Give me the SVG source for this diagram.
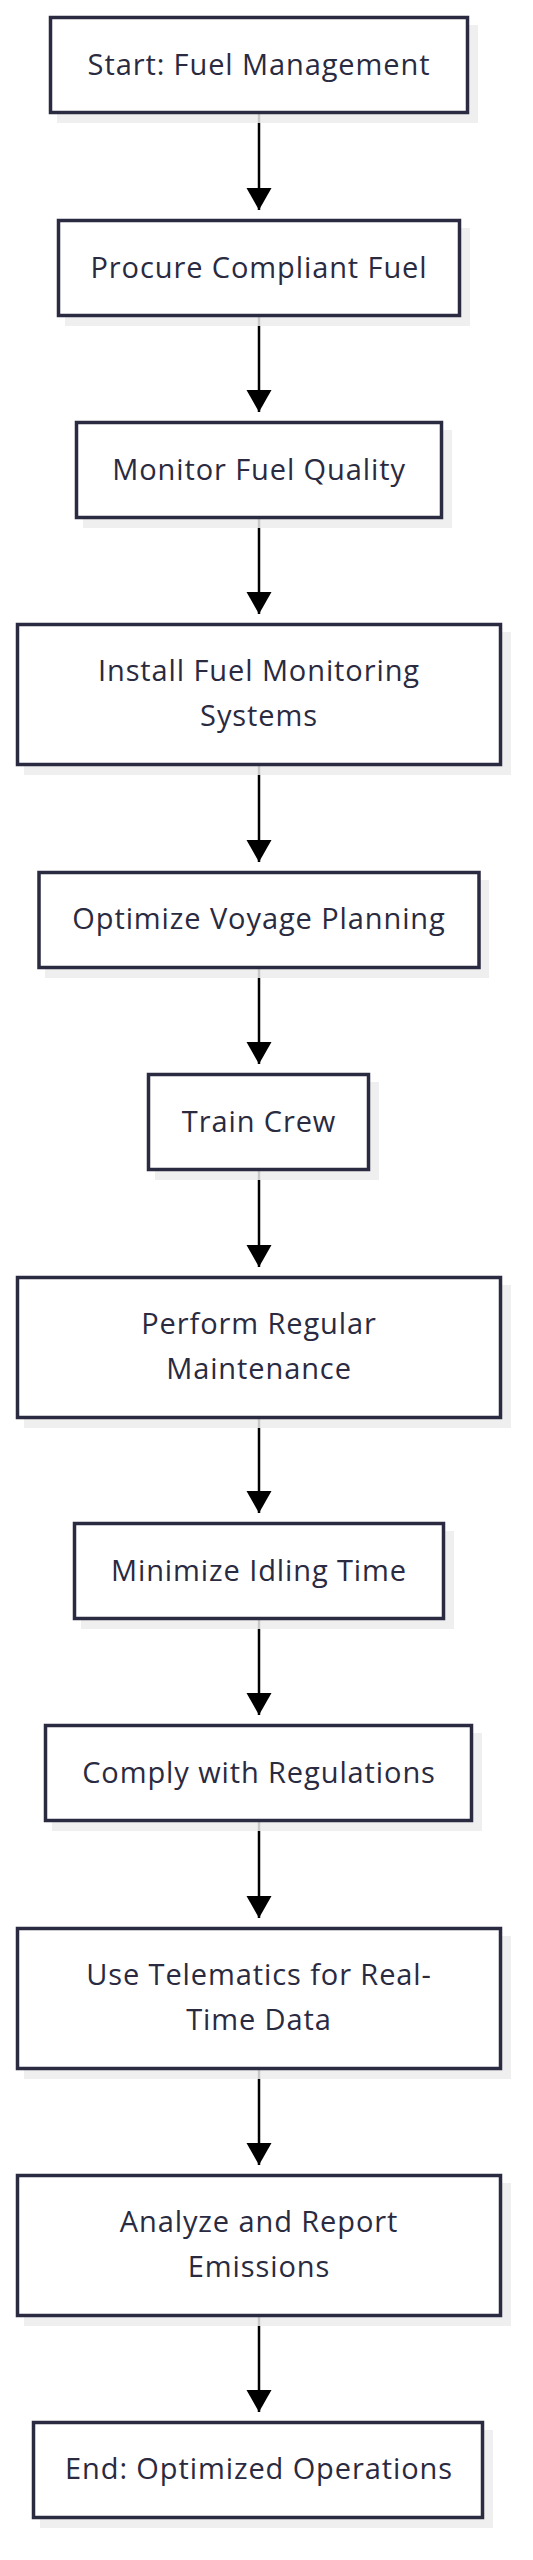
<svg xmlns="http://www.w3.org/2000/svg" width="533" height="2560" viewBox="0 0 533 2560">
<defs>
<marker id="arrow" markerUnits="userSpaceOnUse" markerWidth="24" markerHeight="26" refX="22" refY="12.5" orient="auto">
<path d="M0,0 L22,12.5 L0,25 z" fill="#000000"/>
</marker>
</defs>
<style>
.box{fill:#ffffff;stroke:#2a2a40;stroke-width:3.5}
.shadow{fill:#ececec;opacity:0.85}
.lbl{font-family:"Open Sans","Noto Sans",sans-serif;font-size:29px;letter-spacing:0.9px;fill:#2a2a40;text-anchor:middle}
.edge{stroke:#000000;stroke-width:2.5;fill:none;marker-end:url(#arrow)}
</style>
<rect width="533" height="2560" fill="#ffffff"/>
<g id="connectors">
<line class="edge" x1="259" y1="114" x2="259" y2="210"/>
<line class="edge" x1="259" y1="317" x2="259" y2="412"/>
<line class="edge" x1="259" y1="519" x2="259" y2="614"/>
<line class="edge" x1="259" y1="766" x2="259" y2="862"/>
<line class="edge" x1="259" y1="969" x2="259" y2="1064"/>
<line class="edge" x1="259" y1="1171" x2="259" y2="1267"/>
<line class="edge" x1="259" y1="1419" x2="259" y2="1513"/>
<line class="edge" x1="259" y1="1620" x2="259" y2="1715"/>
<line class="edge" x1="259" y1="1822" x2="259" y2="1918"/>
<line class="edge" x1="259" y1="2069" x2="259" y2="2165"/>
<line class="edge" x1="259" y1="2316" x2="259" y2="2412"/>
</g>
<g id="n1">
<rect class="shadow" x="57" y="25" width="421" height="98"/>
<rect class="box" x="50.5" y="17.5" width="417" height="95"/>
<text class="lbl" x="259" y="75">Start: Fuel Management</text>
</g>
<g id="n2">
<rect class="shadow" x="65" y="228" width="405" height="98"/>
<rect class="box" x="58.5" y="220.5" width="401" height="95"/>
<text class="lbl" x="259" y="278">Procure Compliant Fuel</text>
</g>
<g id="n3">
<rect class="shadow" x="83" y="430" width="369" height="98"/>
<rect class="box" x="76.5" y="422.5" width="365" height="95"/>
<text class="lbl" x="259" y="480">Monitor Fuel Quality</text>
</g>
<g id="n4">
<rect class="shadow" x="24" y="632" width="487" height="143"/>
<rect class="box" x="17.5" y="624.5" width="483" height="140"/>
<text class="lbl" x="259" y="681">Install Fuel Monitoring</text>
<text class="lbl" x="259" y="726">Systems</text>
</g>
<g id="n5">
<rect class="shadow" x="45" y="880" width="444" height="98"/>
<rect class="box" x="39" y="872.5" width="440" height="95"/>
<text class="lbl" x="259" y="929">Optimize Voyage Planning</text>
</g>
<g id="n6">
<rect class="shadow" x="155" y="1082" width="224" height="98"/>
<rect class="box" x="148.5" y="1074.5" width="220" height="95"/>
<text class="lbl" x="259" y="1132">Train Crew</text>
</g>
<g id="n7">
<rect class="shadow" x="24" y="1285" width="487" height="143"/>
<rect class="box" x="17.5" y="1277.5" width="483" height="140"/>
<text class="lbl" x="259" y="1334">Perform Regular</text>
<text class="lbl" x="259" y="1379">Maintenance</text>
</g>
<g id="n8">
<rect class="shadow" x="81" y="1531" width="373" height="98"/>
<rect class="box" x="74.5" y="1523.5" width="369" height="95"/>
<text class="lbl" x="259" y="1581">Minimize Idling Time</text>
</g>
<g id="n9">
<rect class="shadow" x="52" y="1733" width="430" height="98"/>
<rect class="box" x="45.5" y="1725.5" width="426" height="95"/>
<text class="lbl" x="259" y="1783">Comply with Regulations</text>
</g>
<g id="n10">
<rect class="shadow" x="24" y="1936" width="487" height="143"/>
<rect class="box" x="17.5" y="1928.5" width="483" height="140"/>
<text class="lbl" x="259" y="1985">Use Telematics for Real-</text>
<text class="lbl" x="259" y="2030">Time Data</text>
</g>
<g id="n11">
<rect class="shadow" x="24" y="2183" width="487" height="143"/>
<rect class="box" x="17.5" y="2175.5" width="483" height="140"/>
<text class="lbl" x="259" y="2232">Analyze and Report</text>
<text class="lbl" x="259" y="2277">Emissions</text>
</g>
<g id="n12">
<rect class="shadow" x="40" y="2430" width="453" height="98"/>
<rect class="box" x="33.5" y="2422.5" width="449" height="95"/>
<text class="lbl" x="259" y="2479">End: Optimized Operations</text>
</g>
</svg>
